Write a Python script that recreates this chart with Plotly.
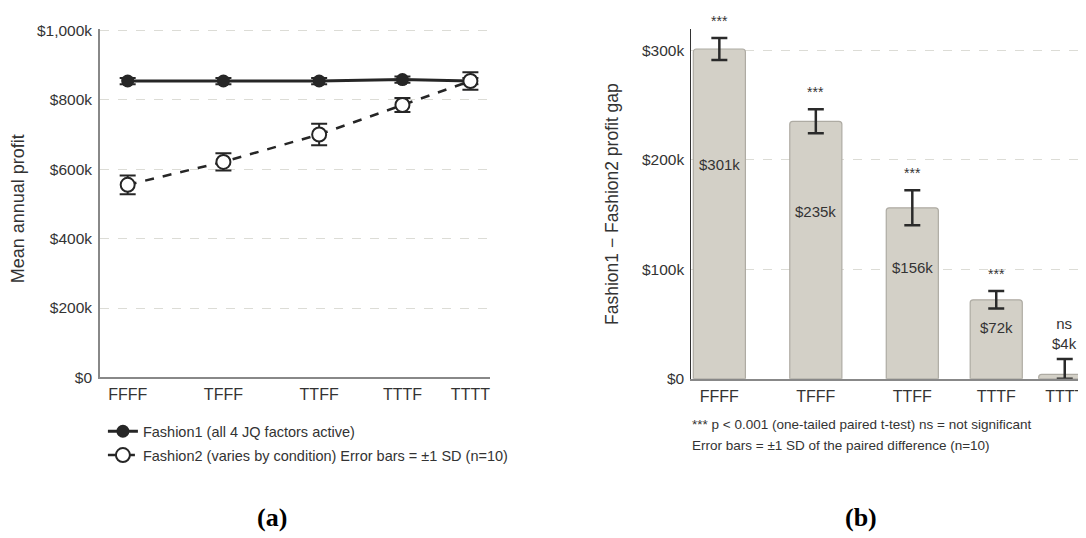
import plotly.graph_objects as go

# ---- data ----
conditions = ["FFFF", "TFFF", "TTFF", "TTTF", "TTTT"]
cond_pos = [0, 1, 2, 2.87, 3.58]          # category positions on the (uneven) condition axis
fashion1_mean = [854000, 854000, 854000, 858000, 854000]
fashion1_sd = [9000, 9000, 9000, 9000, 9000]
fashion2_mean = [555000, 621000, 700000, 785000, 854000]
fashion2_sd = [27000, 25000, 31000, 20000, 25000]
gap_mean = [301000, 235000, 156000, 72000, 4000]
gap_sd = [10000, 11000, 16000, 8000, 14000]
gap_labels = ["$301k", "$235k", "$156k", "$72k", "$4k"]
gap_sig = ["***", "***", "***", "***", "ns"]
left_yticks = [0, 200000, 400000, 600000, 800000, 1000000]
left_yticktext = ["$0", "$200k", "$400k", "$600k", "$800k", "$1,000k"]
right_yticks = [0, 100000, 200000, 300000]
right_yticktext = ["$0", "$100k", "$200k", "$300k"]

FONT = "Liberation Sans, Arial, sans-serif"
SERIF = "Liberation Serif, Times New Roman, serif"
TXT = "#333333"
OFF = 8                      # default page margin of the html body
W, H = 1086 - OFF, 538 - OFF


def px(xp):
    return (xp - OFF) / W


def py(yp):
    return 1 - (yp - OFF) / H


fig = go.Figure()

fig.add_trace(go.Scatter(
    x=cond_pos, y=fashion1_mean, mode="lines+markers",
    name="Fashion1 (all 4 JQ factors active)", legendgroup="f1",
    line=dict(color="#262626", width=3),
    marker=dict(color="#262626", size=13, symbol="circle"),
    error_y=dict(type="data", array=fashion1_sd, color="#262626", thickness=2, width=8),
    xaxis="x", yaxis="y",
))
fig.add_trace(go.Scatter(
    x=cond_pos, y=fashion2_mean, mode="lines+markers",
    name="Fashion2 (varies by condition) Error bars = \u00b11 SD (n=10)", legendgroup="f2",
    line=dict(color="#262626", width=2.5, dash="dash"),
    marker=dict(color="white", size=14, symbol="circle", line=dict(color="#262626", width=2)),
    error_y=dict(type="data", array=fashion2_sd, color="#262626", thickness=2, width=8),
    xaxis="x", yaxis="y",
))

gap_minus = [min(s, v) for s, v in zip(gap_sd, gap_mean)]
fig.add_trace(go.Bar(
    x=cond_pos, y=gap_mean, width=0.54, showlegend=False,
    marker=dict(color="#d3d0c7", line=dict(color="#aeaba3", width=1.2)),
    marker_cornerradius=3,
    error_y=dict(type="data", array=gap_sd, arrayminus=gap_minus,
                 color="#2a2a2a", thickness=2.5, width=8),
    xaxis="x2", yaxis="y2",
))

annotations = []
for p, v, s, lab, sig in zip(cond_pos, gap_mean, gap_sd, gap_labels, gap_sig):
    if v > 30000:
        annotations.append(dict(x=p, y=v + s, xref="x2", yref="y2", text=sig, showarrow=False,
                                xanchor="center", yanchor="middle", yshift=17,
                                font=dict(size=14, color=TXT, family=FONT)))
        annotations.append(dict(x=p, y=v * 0.65, xref="x2", yref="y2", text=lab, showarrow=False,
                                xanchor="center", yanchor="middle",
                                font=dict(size=15, color=TXT, family=FONT)))
    else:
        annotations.append(dict(x=p, y=v + s, xref="x2", yref="y2", text=sig + "<br>" + lab,
                                showarrow=False, xanchor="center", yanchor="bottom", yshift=5,
                                font=dict(size=15, color=TXT, family=FONT)))

annotations += [
    dict(x=px(18), y=py(207), xref="paper", yref="paper", text="Mean annual profit",
         xanchor="center", yanchor="middle", textangle=-90, showarrow=False,
         font=dict(size=18, color=TXT, family=FONT)),
    dict(x=px(612), y=py(202), xref="paper", yref="paper", text="Fashion1 \u2212 Fashion2 profit gap",
         xanchor="center", yanchor="middle", textangle=-90, showarrow=False,
         font=dict(size=17.5, color=TXT, family=FONT)),
    dict(x=px(691), y=py(429), xref="paper", yref="paper", xanchor="left", yanchor="middle",
         text="*** p < 0.001 (one-tailed paired t-test) ns = not significant",
         showarrow=False, font=dict(size=13.5, color=TXT, family=FONT)),
    dict(x=px(691), y=py(451), xref="paper", yref="paper", xanchor="left", yanchor="middle",
         text="Error bars = \u00b11 SD of the paired difference (n=10)",
         showarrow=False, font=dict(size=13.5, color=TXT, family=FONT)),
    dict(x=px(272.5), y=py(525), xref="paper", yref="paper", text="<b>(a)</b>",
         xanchor="center", yanchor="middle", showarrow=False,
         font=dict(size=26, color="black", family=SERIF)),
    dict(x=px(862), y=py(525), xref="paper", yref="paper", text="<b>(b)</b>",
         xanchor="center", yanchor="middle", showarrow=False,
         font=dict(size=26, color="black", family=SERIF)),
]

grid = dict(showgrid=True, gridcolor="#dcdcd6", griddash="dash", gridwidth=1)

fig.update_layout(
    width=W, height=H, margin=dict(l=0, r=0, t=0, b=0),
    paper_bgcolor="white", plot_bgcolor="white",
    font=dict(family=FONT, size=15, color=TXT),
    xaxis=dict(domain=[px(100), px(490)], range=[-0.29, 3.78], tickvals=cond_pos, ticktext=conditions,
               showgrid=False, zeroline=False, showline=True, linecolor="#888888", linewidth=1.5,
               ticks="", tickfont=dict(size=16, color=TXT), ticklabelstandoff=2, anchor="y"),
    yaxis=dict(domain=[py(381), py(22)], range=[0, 1005000], tickvals=left_yticks,
               ticktext=left_yticktext, zeroline=False, showline=True, linecolor="#888888", linewidth=1.5,
               ticks="", tickfont=dict(size=15.5, color=TXT), ticklabelstandoff=3, anchor="x", **grid),
    xaxis2=dict(domain=[px(692), 1.0], range=[-0.29, 3.79], tickvals=cond_pos, ticktext=conditions,
                showgrid=False, zeroline=False, showline=True, linecolor="#888888", linewidth=1.5,
                ticks="", tickfont=dict(size=16, color=TXT), ticklabelstandoff=2, anchor="y2"),
    yaxis2=dict(domain=[py(382.3), py(22.7)], range=[0, 319000], tickvals=right_yticks,
                ticktext=right_yticktext, zeroline=False, showline=True, linecolor="#333333", linewidth=1.2,
                ticks="", tickfont=dict(size=15.5, color=TXT), ticklabelstandoff=3, anchor="x2", **grid),
    showlegend=True,
    legend=dict(x=px(103), y=py(420), xanchor="left", yanchor="top", bgcolor="rgba(0,0,0,0)",
                font=dict(size=14.5, color=TXT, family=FONT), tracegroupgap=2, traceorder="grouped"),
    annotations=annotations,
)

fig.write_html("out.html")
